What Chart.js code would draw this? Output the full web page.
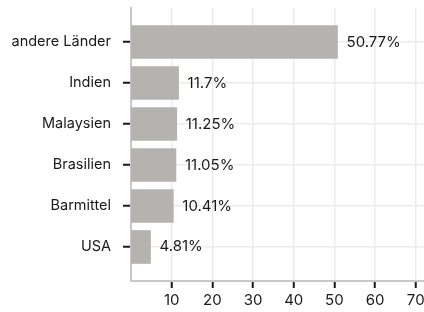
<!DOCTYPE html>
<html>
<head>
<meta charset="utf-8">
<script src="https://cdn.jsdelivr.net/npm/chart.js@4"></script>
<style>
  html, body { margin: 0; padding: 0; background: #fff; overflow: hidden; }
  #wrap { width: 432px; height: 312px; }
</style>
</head>
<body>
<div id="wrap"><canvas id="myChart" width="432" height="312"></canvas></div>
<script>
const countries = ["andere Länder", "Indien", "Malaysien", "Brasilien", "Barmittel", "USA"];
const shares = [50.77, 11.7, 11.25, 11.05, 10.41, 4.81];
const shareLabels = ["50.77%", "11.7%", "11.25%", "11.05%", "10.41%", "4.81%"];
const xTicks = [10, 20, 30, 40, 50, 60, 70];

const FONT = "Inter, 'DejaVu Sans', sans-serif";

// writes the percent text right of each bar
const valueLabels = {
  id: "valueLabels",
  afterDatasetsDraw(chart) {
    const ctx = chart.ctx;
    const meta = chart.getDatasetMeta(0);
    ctx.save();
    ctx.font = "15px " + FONT;
    ctx.fillStyle = "#1a1a1a";
    ctx.textAlign = "left";
    ctx.textBaseline = "middle";
    meta.data.forEach((bar, i) => {
      ctx.fillText(shareLabels[i], bar.x + 9, bar.y);
    });
    ctx.restore();
  }
};

new Chart(document.getElementById("myChart"), {
  type: "bar",
  data: {
    datasets: [{
      data: shares.map((v, i) => ({ x: v, y: i })),
      backgroundColor: "#b4b3af",
      borderWidth: 0,
      barThickness: 33,
    }],
  },
  plugins: [valueLabels],
  options: {
    indexAxis: "y",
    responsive: false,
    animation: false,
    events: [],
    layout: { padding: { top: 8, right: 0, left: 0, bottom: 0 } },
    plugins: { legend: { display: false }, tooltip: { enabled: false } },
    scales: {
      x: {
        type: "linear",
        min: 0,
        max: 74,
        afterBuildTicks: (scale) => { scale.ticks = xTicks.map(v => ({ value: v })); },
        afterFit: (scale) => { scale.height = 31; scale.paddingLeft = 0; scale.paddingRight = 0; },
        border: { color: "#c8c8c8", width: 2 },
        grid: { color: "#ececec", lineWidth: 1.5, tickColor: "#1a1a1a", tickLength: 7, tickWidth: 2 },
        ticks: { color: "#1a1a1a", font: { family: FONT, size: 15 }, padding: 3, maxRotation: 0 },
      },
      y: {
        type: "linear",
        reverse: true,
        offset: false,
        min: -0.83,
        max: 5.83,
        afterBuildTicks: (scale) => { scale.ticks = countries.map((c, i) => ({ value: i })); },
        afterFit: (scale) => { scale.width = 131; scale.paddingTop = 0; scale.paddingBottom = 0; },
        border: { color: "#c8c8c8", width: 2 },
        grid: { offset: false, color: "#ececec", lineWidth: 1.5, tickColor: "#1a1a1a", tickLength: 8, tickWidth: 2 },
        ticks: {
          color: "#1a1a1a",
          font: { family: FONT, size: 14.5 },
          padding: 12,
          callback: (v) => countries[v] ?? "",
        },
      },
    },
  },
});
</script>
</body>
</html>
